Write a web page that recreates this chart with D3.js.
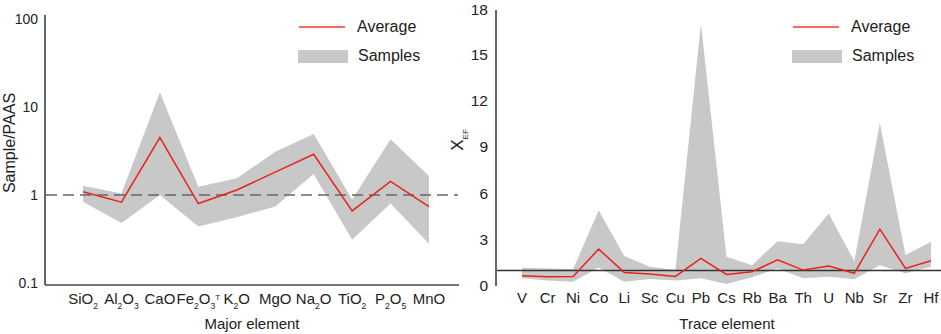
<!DOCTYPE html>
<html>
<head>
<meta charset="utf-8">
<title>Major and trace elements</title>
<script src="https://cdn.jsdelivr.net/npm/d3@7"></script>
<style>
  body { margin: 0; background: #fff; }
  text { font-family: "Liberation Sans", Arial, sans-serif; fill: #222; }
  .band { fill: #c8c8c8; stroke: none; }
  .avg { fill: none; stroke: #e8231c; stroke-width: 1.5; }
</style>
</head>
<body>
<div id="viz"></div>
<script>
// DATA - left panel (normalised to PAAS, log scale)
var majors = ["SiO2", "Al2O3", "CaO", "Fe2O3^T", "K2O", "MgO", "Na2O", "TiO2", "P2O5", "MnO"];
var majorAvg = [1.09, 0.83, 4.5, 0.80, 1.14, 1.82, 2.9, 0.66, 1.43, 0.74];
var majorMax = [1.27, 1.04, 14.7, 1.24, 1.55, 3.1, 4.93, 0.89, 4.3, 1.64];
var majorMin = [0.84, 0.48, 1.0, 0.44, 0.56, 0.74, 1.73, 0.31, 0.80, 0.28];
var majorTicks = [0.1, 1, 10, 100];

// DATA - right panel (enrichment factor)
var traces = ["V", "Cr", "Ni", "Co", "Li", "Sc", "Cu", "Pb", "Cs", "Rb", "Ba", "Th", "U", "Nb", "Sr", "Zr", "Hf"];
var traceAvg = [0.66, 0.60, 0.62, 2.39, 0.88, 0.77, 0.62, 1.79, 0.75, 0.92, 1.70, 1.03, 1.29, 0.82, 3.68, 1.14, 1.63];
var traceMax = [1.18, 1.13, 1.10, 4.9, 1.94, 1.25, 1.03, 17.0, 1.89, 1.35, 2.9, 2.71, 4.69, 1.6, 10.56, 2.0, 2.86];
var traceMin = [0.50, 0.35, 0.28, 1.2, 0.28, 0.45, 0.35, 0.50, 0.13, 0.56, 1.14, 0.50, 0.60, 0.43, 1.35, 0.82, 1.25];
var traceTicks = [0, 3, 6, 9, 12, 15, 18];

var w = 941, h = 334;

var svg = d3.select("#viz").append("svg")
  .attr("width", w)
  .attr("height", h);

// label with subscript digits and "^T" superscript
function chemLabel(sel, s) {
  var parts = s.match(/\^T|[0-9]+|[^0-9^]+/g);
  parts.forEach(function(p) {
    if (p === "^T") {
      sel.append("tspan").attr("font-size", "8px").attr("baseline-shift", "super").text("T");
    } else if (/^[0-9]+$/.test(p)) {
      sel.append("tspan").attr("font-size", "8.5px").attr("baseline-shift", "sub").text(p);
    } else {
      sel.append("tspan").text(p);
    }
  });
}

function legend(g, x) {
  g.append("line")
    .attr("x1", x).attr("x2", x + 46)
    .attr("y1", 27).attr("y2", 27)
    .attr("stroke", "#ee3b2a").attr("stroke-width", 1.5);
  g.append("text").attr("x", x + 58).attr("y", 32)
    .attr("font-size", "16px").text("Average");
  g.append("rect").attr("class", "band")
    .attr("x", x - 1).attr("y", 50).attr("width", 50).attr("height", 13);
  g.append("text").attr("x", x + 59).attr("y", 61)
    .attr("font-size", "16px").text("Samples");
}

// ---------------- LEFT PANEL ----------------
var gL = svg.append("g");
var xL = d3.scalePoint().domain(majors).range([83, 429]);
var yL = d3.scaleLog().domain([0.1, 100]).range([283, 19]);

var majorRows = majors.map(function(m, i) {
  return { k: m, avg: majorAvg[i], max: majorMax[i], min: majorMin[i] };
});

gL.append("path").datum(majorRows).attr("class", "band")
  .attr("d", d3.area()
    .x(function(d) { return xL(d.k); })
    .y0(function(d) { return yL(d.min); })
    .y1(function(d) { return yL(d.max); }));

gL.append("line")
  .attr("x1", 46).attr("x2", 458)
  .attr("y1", yL(1)).attr("y2", yL(1))
  .attr("stroke", "#666").attr("stroke-width", 1.6)
  .attr("stroke-dasharray", "11,6");

gL.append("path").datum(majorRows).attr("class", "avg")
  .attr("d", d3.line()
    .x(function(d) { return xL(d.k); })
    .y(function(d) { return yL(d.avg); }));

// axes
var axL = gL.append("g").attr("transform", "translate(45,0)")
  .call(d3.axisLeft(yL).tickValues(majorTicks).tickSize(0).tickPadding(7)
    .tickFormat(function(d) { return d < 1 ? "0.1" : d3.format("d")(d); }));
axL.select(".domain").remove();
axL.selectAll("text").attr("font-size", "14px").attr("fill", "#222")
  .attr("font-family", "Liberation Sans, Arial, sans-serif");

gL.append("line").attr("x1", 45).attr("x2", 45).attr("y1", 15).attr("y2", 285)
  .attr("stroke", "#333").attr("stroke-width", 1.5);
gL.append("line").attr("x1", 45).attr("x2", 459).attr("y1", 285).attr("y2", 285)
  .attr("stroke", "#444").attr("stroke-width", 1.5);

gL.selectAll(".xlab").data(majors).enter().append("text")
  .attr("class", "xlab")
  .attr("x", function(d) { return xL(d); })
  .attr("y", 304)
  .attr("text-anchor", "middle")
  .attr("font-size", "15px")
  .each(function(d) { chemLabel(d3.select(this), d); });

gL.append("text").attr("x", 252).attr("y", 329).attr("text-anchor", "middle")
  .attr("font-size", "15px").text("Major element");

gL.append("text").attr("transform", "translate(15,143) rotate(-90)")
  .attr("text-anchor", "middle").attr("font-size", "16px").text("Sample/PAAS");

legend(gL, 299);

// ---------------- RIGHT PANEL ----------------
var gR = svg.append("g");
var xR = d3.scalePoint().domain(traces).range([522, 931]);
var yR = d3.scaleLinear().domain([0, 18]).range([286, 8]);

var traceRows = traces.map(function(t, i) {
  return { k: t, avg: traceAvg[i], max: traceMax[i], min: traceMin[i] };
});

gR.append("path").datum(traceRows).attr("class", "band")
  .attr("d", d3.area()
    .x(function(d) { return xR(d.k); })
    .y0(function(d) { return yR(d.min); })
    .y1(function(d) { return yR(d.max); }));

gR.append("line")
  .attr("x1", 496).attr("x2", 941)
  .attr("y1", yR(1)).attr("y2", yR(1))
  .attr("stroke", "#333").attr("stroke-width", 1.5);

gR.append("path").datum(traceRows).attr("class", "avg")
  .attr("d", d3.line()
    .x(function(d) { return xR(d.k); })
    .y(function(d) { return yR(d.avg); }));

var axR = gR.append("g").attr("transform", "translate(496,0)")
  .call(d3.axisLeft(yR).tickValues(traceTicks).tickSize(0).tickPadding(8));
axR.select(".domain").remove();
axR.selectAll("text").attr("font-size", "15.5px").attr("fill", "#222")
  .attr("font-family", "Liberation Sans, Arial, sans-serif");
// keep the top label inside the picture
axR.selectAll(".tick").filter(function(d) { return d === 18; })
  .select("text").attr("dy", "0.42em");

gR.append("line").attr("x1", 496).attr("x2", 496).attr("y1", 10).attr("y2", 286)
  .attr("stroke", "#666").attr("stroke-width", 2);

gR.selectAll(".xlab").data(traces).enter().append("text")
  .attr("class", "xlab")
  .attr("x", function(d) { return xR(d); })
  .attr("y", 303)
  .attr("text-anchor", "middle")
  .attr("font-size", "15px")
  .text(function(d) { return d; });

gR.append("text").attr("x", 727).attr("y", 329).attr("text-anchor", "middle")
  .attr("font-size", "15px").text("Trace element");

var yt = gR.append("text").attr("transform", "translate(463,140) rotate(-90)")
  .attr("text-anchor", "middle").attr("font-size", "17px");
yt.append("tspan").text("X");
yt.append("tspan").attr("font-size", "8px").attr("baseline-shift", "sub").text("EF");

legend(gR, 793);
</script>
</body>
</html>
